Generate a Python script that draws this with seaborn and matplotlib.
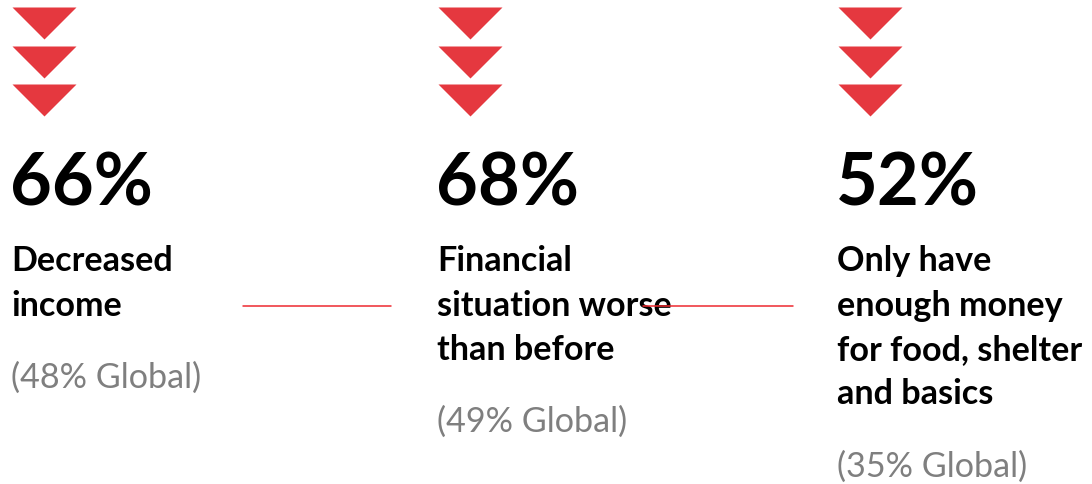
import numpy as np
import pandas as pd
import matplotlib
matplotlib.use("Agg")
import matplotlib.pyplot as plt
from matplotlib.path import Path
import seaborn as sns

# Headline figures
values = [66, 68, 52]
global_values = [48, 49, 35]
labels = [
    ["Decreased", "income"],
    ["Financial", "situation worse", "than before"],
    ["Only have", "enough money", "for food, shelter", "and basics"],
]

sns.set_theme(style="white")
plt.rcParams["font.family"] = ["Lato", "DejaVu Sans"]

W, H, DPI = 1092, 484, 100
fig = plt.figure(figsize=(W / DPI, H / DPI), dpi=DPI)
ax = fig.add_axes([0, 0, 1, 1])
ax.set_xlim(0, W)
ax.set_ylim(H, 0)
ax.axis("off")

# layout (pixel units)
col_left = [11, 437, 837]
tri_cx_offset = 32.5
tri_rows = [23, 61.5, 99.5]
tri_width_pt = 64 * 72 / DPI
num_base = 206
label_base = 271
line_step = 44.5
global_gap = 72
label_size = 24.6

red = "#E5383F"
grey = "#7F7F7F"

# flat downward chevron marker
tri = Path([(-1, 0.5), (1, 0.5), (0, -0.5), (-1, 0.5)],
           [Path.MOVETO, Path.LINETO, Path.LINETO, Path.CLOSEPOLY])

tri_df = pd.DataFrame(
    [(c + tri_cx_offset, r) for c in col_left for r in tri_rows],
    columns=["x", "y"],
)
sns.scatterplot(data=tri_df, x="x", y="y", marker=tri, s=tri_width_pt ** 2,
                color=red, linewidth=0, ax=ax, legend=False)

for i, (v, g, lab) in enumerate(zip(values, global_values, labels)):
    x0 = col_left[i]
    ax.text(x0 - 1, num_base, f"{v}%", fontsize=52, fontweight="bold",
            color="black", va="baseline", ha="left")
    for j, line in enumerate(lab):
        ax.text(x0, label_base + j * line_step, line, fontsize=label_size,
                fontweight="bold", color="black", va="baseline", ha="left")
    gy = label_base + (len(lab) - 1) * line_step + global_gap
    ax.text(x0, gy, f"({g}% Global)", fontsize=label_size, color=grey,
            va="baseline", ha="left")

# thin separators between columns
for xa, xb in [(243, 391), (643, 793)]:
    ax.plot([xa, xb], [306, 306], color="#EE2A30", lw=1.1, zorder=5)

fig.savefig("out.png", dpi=DPI, facecolor="white")
